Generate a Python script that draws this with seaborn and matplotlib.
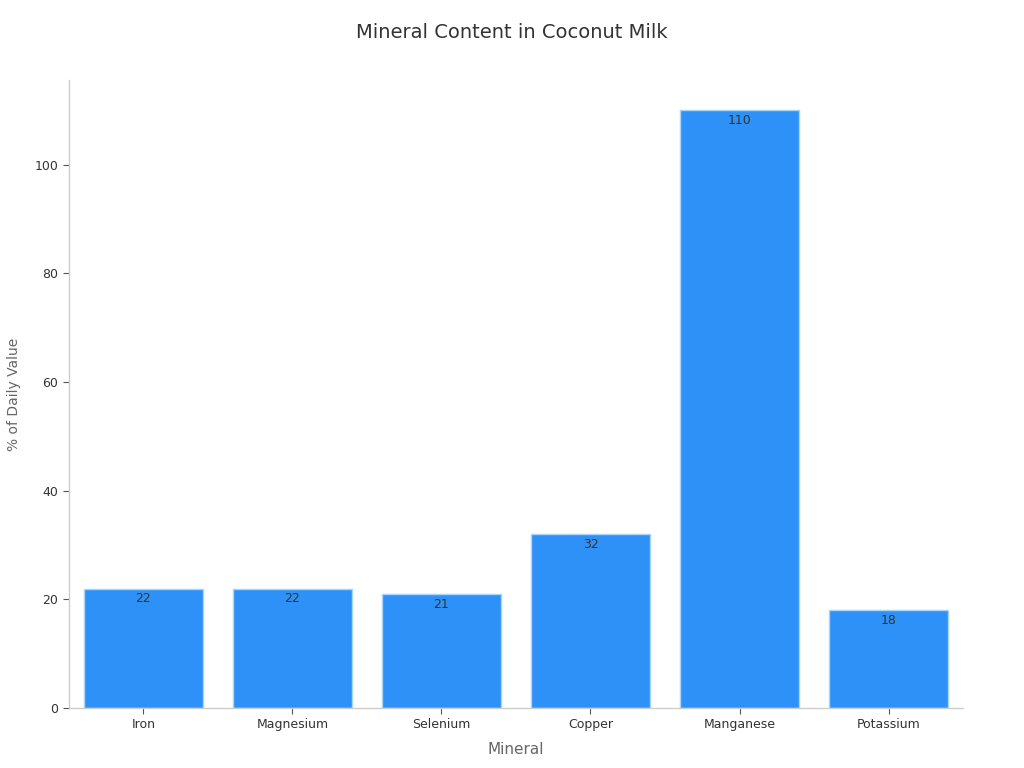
import matplotlib
matplotlib.use("Agg")
import matplotlib.pyplot as plt
import seaborn as sns
import pandas as pd

minerals = ["Iron", "Magnesium", "Selenium", "Copper", "Manganese", "Potassium"]
values = [22, 22, 21, 32, 110, 18]

sns.set_theme(style="white")
plt.rcParams['font.family'] = ['DejaVu Sans']

df = pd.DataFrame({"Mineral": minerals, "Value": values})

fig = plt.figure(figsize=(10.24, 7.68), dpi=100)
ax = fig.add_axes([0.0672, 0.078, 0.8733, 0.818])
sns.barplot(data=df, x="Mineral", y="Value", color="#2E91F7", saturation=1,
            width=0.8, edgecolor="#A8D4FA", linewidth=1, ax=ax)

for c in ax.containers:
    ax.bar_label(c, labels=[str(v) for v in values], padding=-12,
                 fontsize=9, color="#333333")

ax.set_xlim(-0.5, 5.5)
ax.set_ylim(0, 115.6)
ax.set_yticks([0, 20, 40, 60, 80, 100])
ax.set_xlabel("Mineral", fontsize=11, color="#666666", labelpad=8)
ax.set_ylabel("% of Daily Value", fontsize=10, color="#666666", labelpad=10)
ax.tick_params(axis="both", bottom=True, left=True, labelsize=9, colors="#333333",
               length=4, width=0.8, color="#555555")
ax.tick_params(axis="x", pad=3)
for s in ["top", "right"]:
    ax.spines[s].set_visible(False)
for s in ["left", "bottom"]:
    ax.spines[s].set_color("#CCCCCC")
    ax.spines[s].set_linewidth(1)

fig.suptitle("Mineral Content in Coconut Milk", fontsize=14, color="#333333", y=0.97)

fig.savefig("out.png", dpi=100, facecolor="white")
